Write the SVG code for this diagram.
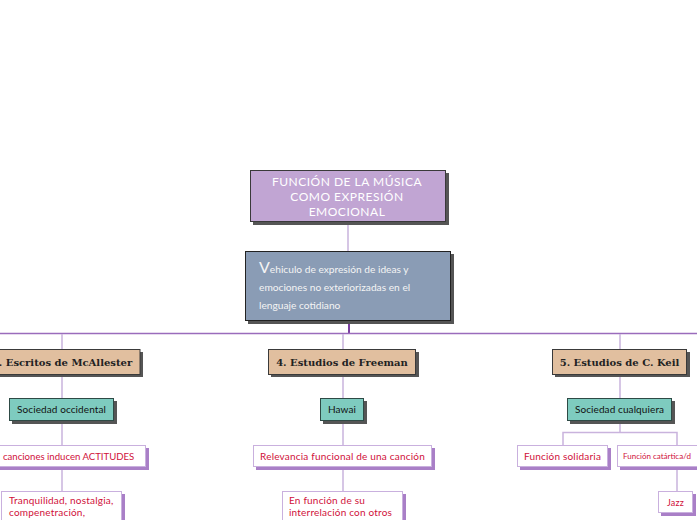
<svg xmlns="http://www.w3.org/2000/svg" width="697" height="520" viewBox="0 0 697 520">
<defs>
<style>
.conn{stroke:#c9b3dd;stroke-width:1.5;fill:none}
.main{fill:#c1a5d3;stroke:#3a3a3a;stroke-width:1}
.shd{fill:#555}
.vbox{fill:#8a9cb5;stroke:#222;stroke-width:1}
.tan{fill:#e1bf9f;stroke:#3a3a3a;stroke-width:1}
.teal{fill:#7ecbbf;stroke:#2e4a45;stroke-width:1}
.wht{fill:#fff;stroke:#c9b0de;stroke-width:1}
.wshd{fill:#a97fc7}
.tmain{font-family:Lato,"Open Sans",sans-serif;font-size:12px;fill:#fff;text-anchor:middle;letter-spacing:0.5px}
.tv{font-family:Lato,"Open Sans",sans-serif;font-size:10.2px;fill:#f4f4f4}
.ttan{font-family:"DejaVu Serif",serif;font-weight:bold;font-size:10px;fill:#222;text-anchor:middle}
.tteal{font-family:Lato,"Open Sans",sans-serif;font-size:10px;fill:#111;text-anchor:middle;letter-spacing:0.1px}
.tw{font-family:Lato,"Open Sans",sans-serif;font-size:10px;fill:#d0103a;letter-spacing:0.2px}
</style>
</defs>
<rect width="697" height="520" fill="#fff"/>
<g id="connectors">
<line class="conn" x1="348" y1="222" x2="348" y2="251"/>
<line x1="349" y1="321" x2="349" y2="334" stroke="#7a3fa0" stroke-width="2"/>
<line x1="0" y1="333.5" x2="697" y2="333.5" stroke="#9a6cbc" stroke-width="1.5"/>
<line class="conn" x1="62" y1="334" x2="62" y2="349"/>
<line class="conn" x1="343" y1="334" x2="343" y2="349"/>
<line class="conn" x1="620" y1="334" x2="620" y2="349"/>
<line class="conn" x1="62" y1="374" x2="62" y2="398"/>
<line class="conn" x1="343" y1="374" x2="343" y2="398"/>
<line class="conn" x1="620" y1="374" x2="620" y2="398"/>
<line class="conn" x1="62" y1="421" x2="62" y2="445"/>
<line class="conn" x1="343" y1="421" x2="343" y2="445"/>
<polyline class="conn" points="620,421 620,432.5"/>
<polyline class="conn" points="563,445 563,432.5 677,432.5 677,445"/>
<line class="conn" x1="62" y1="467" x2="62" y2="492"/>
<line class="conn" x1="343" y1="467" x2="343" y2="492"/>
<line class="conn" x1="677" y1="467" x2="677" y2="491"/>
</g>
<g id="n-main">
<rect class="shd" x="253" y="173" width="196" height="52"/>
<rect class="main" x="250.5" y="170.5" width="195" height="51"/>
<text class="tmain" x="347" y="185.5">FUNCIÓN DE LA MÚSICA</text>
<text class="tmain" x="347" y="200.5">COMO EXPRESIÓN</text>
<text class="tmain" x="347" y="215.5">EMOCIONAL</text>
</g>
<g id="n-vehiculo">
<rect class="shd" x="248" y="254" width="206" height="70"/>
<rect class="vbox" x="245.5" y="251.5" width="205" height="69"/>
<text class="tv" x="259" y="273"><tspan style="font-size:16px">V</tspan>ehiculo de expresión de ideas y</text>
<text class="tv" x="259" y="291">emociones no exteriorizadas en el</text>
<text class="tv" x="259" y="309">lenguaje cotidiano</text>
</g>
<g id="n-mcallester">
<rect class="shd" x="-13" y="352" width="156" height="25"/>
<rect class="tan" x="-16" y="349.5" width="156" height="25"/>
<text class="ttan" x="62" y="365.5">3. Escritos de McAllester</text>
</g>
<g id="n-freeman">
<rect class="shd" x="271" y="352" width="148" height="25"/>
<rect class="tan" x="268.5" y="349.5" width="147" height="25"/>
<text class="ttan" x="342" y="365.5">4. Estudios de Freeman</text>
</g>
<g id="n-keil">
<rect class="shd" x="555" y="352" width="135" height="25"/>
<rect class="tan" x="552.5" y="349.5" width="134" height="25"/>
<text class="ttan" x="619.5" y="365.5">5. Estudios de C. Keil</text>
</g>
<g id="n-occidental">
<rect class="shd" x="12" y="401" width="105" height="23"/>
<rect class="teal" x="9.5" y="398.5" width="104" height="22"/>
<text class="tteal" x="61.5" y="413">Sociedad occidental</text>
</g>
<g id="n-hawai">
<rect class="shd" x="323" y="401" width="44" height="23"/>
<rect class="teal" x="320.5" y="398.5" width="43" height="22"/>
<text class="tteal" x="342" y="413">Hawai</text>
</g>
<g id="n-cualquiera">
<rect class="shd" x="570" y="401" width="105" height="23"/>
<rect class="teal" x="567.5" y="398.5" width="104" height="22"/>
<text class="tteal" x="619.5" y="413">Sociedad cualquiera</text>
</g>
<g id="n-actitudes">
<rect class="wshd" x="-19" y="448" width="168" height="22"/>
<rect class="wht" x="-21.5" y="445.5" width="167" height="21"/>
<text class="tw" x="3" y="459.5" style="font-size:9.6px;letter-spacing:0">canciones inducen ACTITUDES</text>
</g>
<g id="n-relevancia">
<rect class="wshd" x="256" y="448" width="179" height="22"/>
<rect class="wht" x="253.5" y="445.5" width="178" height="21"/>
<text class="tw" x="342.5" y="459.5" text-anchor="middle">Relevancia funcional de una canción</text>
</g>
<g id="n-solidaria">
<rect class="wshd" x="520" y="448" width="91" height="22"/>
<rect class="wht" x="517.5" y="445.5" width="90" height="21"/>
<text class="tw" x="562.5" y="459.5" text-anchor="middle">Función solidaria</text>
</g>
<g id="n-catartica">
<rect class="wshd" x="620" y="448" width="90" height="22"/>
<rect class="wht" x="617.5" y="445.5" width="90" height="21"/>
<text class="tw" x="623" y="459" style="font-size:8px;letter-spacing:0">Función catártica/d</text>
</g>
<g id="n-tranquilidad">
<rect class="wshd" x="4" y="494" width="121" height="40"/>
<rect class="wht" x="1.5" y="491.5" width="120" height="40"/>
<text class="tw" x="9" y="503.5">Tranquilidad, nostalgia,</text>
<text class="tw" x="9" y="515.5">compenetración,</text>
</g>
<g id="n-interrelacion">
<rect class="wshd" x="285" y="494" width="121" height="40"/>
<rect class="wht" x="282.5" y="491.5" width="120" height="40"/>
<text class="tw" x="289" y="503.5">En función de su</text>
<text class="tw" x="289" y="515.5">interrelación con otros</text>
</g>
<g id="n-jazz">
<rect class="wshd" x="661" y="494" width="35" height="22"/>
<rect class="wht" x="658.5" y="491.5" width="34" height="21"/>
<text class="tw" x="675.5" y="505.5" text-anchor="middle" style="font-size:9px">Jazz</text>
</g>
</svg>
